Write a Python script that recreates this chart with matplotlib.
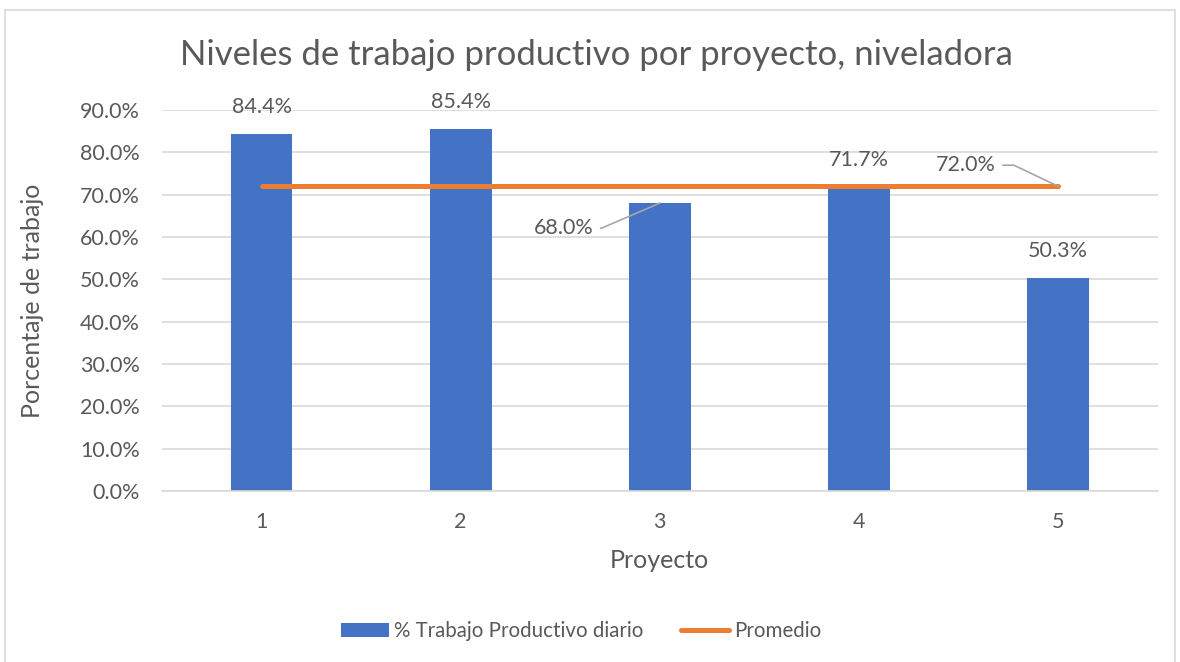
import matplotlib.pyplot as plt
from matplotlib.patches import Rectangle, Patch
from matplotlib.lines import Line2D

# data
proyectos = [1, 2, 3, 4, 5]
trabajo_productivo = [84.4, 85.4, 68.0, 71.7, 50.3]
promedio = [72.0, 72.0, 72.0, 72.0, 72.0]

azul = '#4472C4'
naranja = '#ED7D31'
gris_txt = '#595959'
gris_grid = '#D9D9D9'
gris_lider = '#A6A6A6'

plt.rcParams['font.family'] = ['Lato', 'DejaVu Sans']
fs = 15.5

fig = plt.figure(figsize=(11.8, 6.62), dpi=100)
ax = fig.add_axes([162 / 1180, 1 - 491 / 662, (1157.5 - 162) / 1180, (491 - 110) / 662])

ax.bar(proyectos, trabajo_productivo, width=0.31, color=azul, zorder=2)
ax.plot(proyectos, promedio, color=naranja, linewidth=3.6, solid_capstyle='round', zorder=3)

ax.set_xlim(0.5, 5.5)
ax.set_ylim(0, 90)
ax.set_yticks(range(0, 91, 10))
ax.set_yticklabels([f'{v:.1f}%' for v in range(0, 91, 10)])
ax.set_xticks(proyectos)
ax.yaxis.grid(True, color=gris_grid, linewidth=1.2, zorder=0)
ax.set_axisbelow(True)
for s in ['top', 'right', 'left']:
    ax.spines[s].set_visible(False)
ax.spines['bottom'].set_color(gris_grid)
ax.spines['bottom'].set_linewidth(1.2)
ax.tick_params(axis='both', length=0, labelsize=fs, labelcolor=gris_txt)
ax.tick_params(axis='x', pad=15)
ax.tick_params(axis='y', pad=16)

ax.set_xlabel('Proyecto', fontsize=18, color=gris_txt)
ax.set_ylabel('Porcentaje de trabajo', fontsize=18, color=gris_txt)
ax.xaxis.label.set_va('center')
ax.yaxis.label.set_va('center')
ax.xaxis.set_label_coords(0.5, (491 - 561) / 381)
ax.yaxis.set_label_coords((33 - 162) / 995.5, 0.5)

fig.text(596 / 1180, 1 - 55 / 662, 'Niveles de trabajo productivo por proyecto, niveladora',
         ha='center', va='center', fontsize=25, color=gris_txt)

# etiquetas de datos
for i, v in enumerate(trabajo_productivo):
    if i == 2:
        continue
    ax.annotate(f'{v:.1f}%', xy=(proyectos[i], v), xytext=(0, 27), textcoords='offset pixels',
                ha='center', va='center', fontsize=fs, color=gris_txt)

lider = dict(arrowstyle='-', color=gris_lider, linewidth=1.2, shrinkA=3, shrinkB=0,
             relpos=(1, 0.5))
ax.annotate(f'{trabajo_productivo[2]:.1f}%', xy=(proyectos[2], trabajo_productivo[2]),
            xytext=(-96, -25), textcoords='offset pixels', ha='center', va='center',
            fontsize=fs, color=gris_txt,
            arrowprops=dict(lider, connectionstyle='arc,angleA=0,angleB=0,armA=8,armB=0,rad=0'))
ax.annotate(f'{promedio[4]:.1f}%', xy=(proyectos[4], promedio[4]),
            xytext=(-92, 21), textcoords='offset pixels', ha='center', va='center',
            fontsize=fs, color=gris_txt,
            arrowprops=dict(lider, connectionstyle='arc,angleA=0,angleB=0,armA=18,armB=0,rad=0'))

# leyenda
fs_leg = 14.8
handles = [Patch(facecolor=azul, edgecolor='none'),
           Line2D([0], [0], color=naranja, linewidth=3.6, solid_capstyle='round')]
fig.legend(handles, ['% Trabajo Productivo diario', 'Promedio'], loc='center',
           bbox_to_anchor=(581 / 1180, 1 - 631 / 662), ncol=2, frameon=False,
           fontsize=fs_leg, labelcolor=gris_txt, handlelength=2.35, handleheight=0.68,
           handletextpad=0.25, columnspacing=1.8)

# borde del grafico
fig.patches.append(Rectangle((5 / 1180, -0.01), 1170 / 1180, 1 - 10 / 662 + 0.01,
                             transform=fig.transFigure, fill=False,
                             edgecolor=gris_grid, linewidth=1.2))

fig.savefig('out.png', dpi=100)
